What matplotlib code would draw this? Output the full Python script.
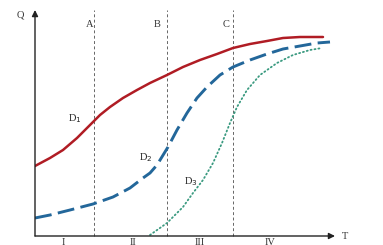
import matplotlib
matplotlib.use("Agg")
import matplotlib.pyplot as plt

# Data (T, Q)
d1_t = [0, 15, 28, 42, 52, 58, 65, 75, 88, 102, 115, 132, 148, 165, 182, 198, 215, 232, 248, 265, 288]
d1_q = [70, 78, 86, 98, 108, 114, 121, 129, 138, 146, 153, 161, 169, 176, 182, 188, 192, 195, 198, 199, 199]

d2_t = [0, 15, 35, 58, 78, 95, 108, 115, 122, 133, 142, 152, 162, 172, 185, 198, 215, 232, 248, 265, 282, 295]
d2_q = [18, 21, 26, 32, 39, 48, 58, 63, 71, 89, 106, 123, 138, 149, 161, 169, 176, 182, 187, 190, 193, 194]

d3_t = [115, 132, 148, 158, 168, 178, 187, 195, 202, 212, 225, 242, 258, 275, 287]
d3_q = [1, 13, 29, 43, 56, 73, 93, 113, 129, 146, 161, 173, 181, 186, 188]

vlines_t = [59, 132, 198]
vline_labels = ["A", "B", "C"]
stage_labels = ["I", "II", "III", "IV"]
stage_t = [28, 98, 165, 235]

W, H = 383, 245
fig = plt.figure(figsize=(W / 100, H / 100), dpi=100)
ax = fig.add_axes([35 / W, 9 / H, 300 / W, 226 / H])
ax.set_xlim(0, 300)
ax.set_ylim(0, 226)
ax.axis("off")

serif = ["Liberation Serif", "DejaVu Serif"]

# axes arrows
ax.annotate("", xy=(300, 0), xytext=(0, 0),
            arrowprops=dict(arrowstyle="-|>", color="#222222", lw=1.0,
                            mutation_scale=9, shrinkA=0, shrinkB=0),
            annotation_clip=False)
ax.annotate("", xy=(0, 226), xytext=(0, 0),
            arrowprops=dict(arrowstyle="-|>", color="#222222", lw=1.0,
                            mutation_scale=9, shrinkA=0, shrinkB=0),
            annotation_clip=False)

for t in vlines_t:
    ax.plot([t, t], [0, 226], color="#666666", lw=0.7, ls=(0, (3, 2.5)),
            clip_on=False)

for t, lab, dx in zip(vlines_t, vline_labels, [-4, -10, -7]):
    ax.text(t + dx, 211, lab, fontsize=7.5, family=serif, color="#333333",
            ha="center", va="center")

ax.plot(d1_t, d1_q, color="#b01c24", lw=1.8, solid_capstyle="round",
        solid_joinstyle="round")
ax.plot(d2_t, d2_q, color="#23679a", lw=2.1, ls=(0, (5.8, 2.2)),
        dash_joinstyle="round")
ax.plot(d3_t, d3_q, color="#3a9a80", lw=1.3, ls=(0, (0.6, 1.6)),
        dash_capstyle="round")

ax.text(40, 117, r"D$_1$", fontsize=7.5, family=serif, color="#222222",
        ha="center", va="center")
ax.text(111, 78, r"D$_2$", fontsize=7.5, family=serif, color="#222222",
        ha="center", va="center")
ax.text(156, 54, r"D$_3$", fontsize=7.5, family=serif, color="#222222",
        ha="center", va="center")

for t, lab in zip(stage_t, stage_labels):
    ax.text(t, -6, lab, fontsize=7.5, family=serif, color="#333333",
            ha="center", va="center", clip_on=False)

fig.text(20 / W, 1 - 15 / H, "Q", fontsize=7.5, family=serif, color="#333333",
         ha="center", va="center")
fig.text(345 / W, 1 - 236 / H, "T", fontsize=7.5, family=serif, color="#333333",
         ha="center", va="center")

fig.savefig("out.png", dpi=100, facecolor="white")
